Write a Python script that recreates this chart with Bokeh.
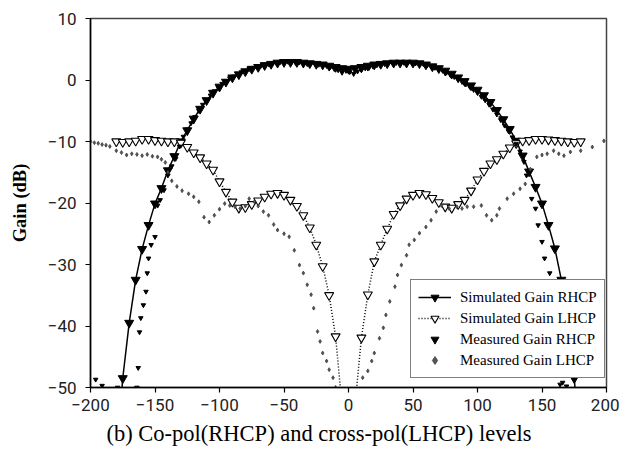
from bokeh.plotting import figure
from bokeh.models import Range1d, FixedTicker, Title, Legend
from bokeh.embed import file_html
from bokeh.resources import INLINE

# ---------------- data ----------------
sim_angle = [-180, -175, -170, -165, -160, -155, -150, -145, -140, -135, -130, -125,
             -120, -115, -110, -105, -100, -95, -90, -85, -80, -75, -70, -65,
             -60, -55, -50, -45, -40, -35, -30, -25, -20, -15, -10, -5,
             0, 5, 10, 15, 20, 25, 30, 35, 40, 45, 50, 55,
             60, 65, 70, 75, 80, 85, 90, 95, 100, 105, 110, 115,
             120, 125, 130, 135, 140, 145, 150, 155, 160, 165, 170, 175, 180]

sim_rhcp = [-62.0, -48.5, -39.5, -32.5, -27.5, -23.6, -20.1, -17.6, -14.7, -12.4, -10.0, -8.2,
            -6.3, -4.7, -3.3, -2.1, -1.1, -0.3, 0.4, 0.9, 1.4, 1.8, 2.1, 2.4,
            2.6, 2.8, 2.9, 2.9, 2.9, 2.8, 2.7, 2.6, 2.5, 2.3, 2.1, 1.9,
            1.8, 1.9, 2.1, 2.3, 2.5, 2.6, 2.7, 2.8, 2.8, 2.8, 2.8, 2.7,
            2.5, 2.2, 1.9, 1.5, 1.0, 0.4, -0.2, -0.9, -1.6, -2.5, -3.6, -4.9,
            -6.4, -8.0, -9.9, -12.3, -14.9, -17.4, -20.1, -23.6, -27.4, -32.5, -39.5, -48.5, -62.0]

sim_lhcp = [-10.0, -10.1, -10.0, -9.9, -9.6, -9.6, -9.8, -9.9, -10.0, -10.0, -10.2, -10.9,
            -11.8, -12.6, -13.6, -14.6, -16.5, -18.2, -19.8, -20.8, -20.7, -20.2, -19.6, -19.0,
            -18.5, -18.4, -18.7, -19.5, -20.5, -22.0, -24.0, -26.8, -30.3, -35.0, -41.7, -53.0,
            -60.0, -53.0, -41.9, -34.9, -29.5, -26.8, -24.2, -21.8, -20.4, -19.3, -18.7, -18.4,
            -18.6, -19.2, -19.9, -20.6, -20.8, -20.2, -19.5, -18.0, -16.2, -14.8, -13.6, -12.9,
            -12.0, -11.0, -10.3, -9.9, -9.8, -9.6, -9.6, -9.7, -9.8, -9.9, -10.0, -10.1, -10.0]

meas_rhcp_angle = [-196, -191, -179, -164, -163, -162, -161, -159, -157, -156, -155, -153,
                   -150, -148, -146, -143, -140, -137, -134, -131, -128, -125, -122, -119,
                   -116, -113, -110, -107, -104, -101, -98, -95, -92, -89, -86, -83,
                   -80, -77, -74, -71, -68, -65, -62, -59, -56, -53, -50, -47,
                   -44, -41, -38, -35, -32, -29, -26, -23, -20, -17, -14, -11,
                   -8, -5, -2, 1, 4, 7, 10, 13, 16, 19, 22, 25,
                   28, 31, 34, 37, 40, 43, 46, 49, 52, 55, 58, 61,
                   64, 67, 70, 73, 76, 79, 82, 85, 88, 91, 94, 97,
                   100, 103, 106, 109, 112, 115, 118, 121, 124, 127, 130, 133,
                   136, 138, 142, 145, 147, 150, 152, 156, 158, 160, 162, 164,
                   166, 169, 196]
meas_rhcp = [-48.7, -49.7, -50.0, -50.0, -46.8, -41.0, -38.7, -36.6, -34.4, -31.4, -29.0, -26.8,
             -25.5, -20.4, -19.5, -17.9, -15.5, -14.0, -12.8, -10.8, -9.2, -8.0, -7.0, -6.0,
             -5.0, -4.0, -3.2, -2.5, -1.8, -1.2, -0.6, -0.2, 0.3, 0.6, 1.0, 1.3,
             1.5, 1.8, 2.0, 2.2, 2.3, 2.5, 2.6, 2.7, 2.8, 2.9, 2.8, 3.0,
             2.9, 2.8, 2.9, 2.8, 2.6, 2.8, 2.7, 2.5, 2.6, 2.3, 2.1, 1.8,
             1.6, 1.2, 1.5, 1.3, 1.0, 1.4, 1.6, 1.9, 2.0, 2.2, 2.4, 2.5,
             2.6, 2.7, 2.8, 2.8, 2.9, 2.8, 2.9, 2.8, 2.7, 2.8, 2.6, 2.4,
             2.2, 2.0, 1.7, 1.5, 1.2, 0.8, 0.5, 0.1, -0.3, -0.7, -1.1, -1.6,
             -2.1, -2.7, -3.3, -4.0, -4.8, -5.6, -6.5, -7.4, -8.3, -9.3, -10.4, -11.6,
             -13.3, -15.5, -19.3, -20.9, -23.6, -26.3, -29.0, -31.4, -35.0, -40.0, -45.0, -49.5,
             -49.2, -49.8, -48.0]

meas_lhcp_angle = [-200, -197, -194, -191, -188, -185, -180, -176, -172, -168, -164, -160,
                   -156, -152, -148, -145, -142, -140, -137, -133, -129, -124, -120, -116,
                   -112, -108, -104, -100, -96, -92, -88, -84, -80, -77, -73, -70,
                   -66, -62, -58, -55, -50, -46, -42, -38, -35, -32, -29, -27,
                   -24, -22, -20, -17, -15, -12, -10,
                   11, 15, 18, 20, 24, 27, 29, 32, 36, 38, 41, 45,
                   47, 51, 55, 60, 64, 68, 72, 78, 84, 88, 92, 97,
                   103, 107, 111, 115, 117, 123, 128, 133, 137, 141, 146, 150,
                   154, 159, 163, 167, 172, 180, 189, 198]
meas_lhcp = [-10.0, -10.2, -10.3, -10.5, -10.6, -10.8, -11.5, -11.8, -12.2, -12.0, -12.1, -12.3,
             -12.1, -12.4, -12.5, -12.9, -13.4, -15.0, -16.4, -17.3, -18.0, -18.5, -19.0, -19.8,
             -22.3, -23.1, -22.0, -21.0, -20.1, -20.4, -20.6, -20.9, -20.5, -19.3, -19.8, -20.5,
             -21.4, -22.0, -23.5, -24.4, -25.0, -25.5, -27.7, -30.1, -31.4, -33.3, -34.9, -37.1,
             -40.9, -42.5, -44.4, -45.7, -47.1, -48.4, -50.0,
             -48.4, -47.3, -45.7, -44.4, -42.0, -40.3, -38.2, -36.0, -33.6, -31.7, -30.1, -28.5,
             -26.8, -26.0, -24.9, -23.9, -22.8, -21.4, -20.4, -20.9, -20.6, -20.9, -20.6, -20.6,
             -20.4, -22.0, -22.8, -22.0, -20.9, -19.3, -18.5, -17.7, -16.9, -14.5, -12.5, -12.2,
             -12.0, -11.5, -12.0, -12.3, -11.7, -11.5, -10.9, -9.9]

x_ticks = [-200, -150, -100, -50, 0, 50, 100, 150, 200]
y_ticks = [-50, -40, -30, -20, -10, 0, 10]
caption = "(b) Co-pol(RHCP) and cross-pol(LHCP) levels"
y_label = "Gain (dB)"

# ---------------- figure ----------------
p = figure(width=619, height=450, output_backend="svg", toolbar_location=None,
           x_range=Range1d(-200, 200), y_range=Range1d(-50, 10),
           min_border_left=90, min_border_right=13, min_border_top=18, min_border_bottom=58)
p.title.visible = False
p.xgrid.visible = False
p.ygrid.visible = False
p.background_fill_color = "white"
p.border_fill_color = "white"
p.outline_line_color = "#444444"
p.outline_line_width = 1.5

tick_font = "Roboto"
for ax in (p.xaxis[0], p.yaxis[0]):
    ax.axis_line_color = "black"
    ax.axis_line_width = 1.5
    ax.major_tick_line_color = "black"
    ax.major_tick_line_width = 1.2
    ax.major_tick_out = 5
    ax.major_tick_in = 0
    ax.minor_tick_line_color = None
    ax.major_label_text_font = tick_font
    ax.major_label_text_font_size = "17px"
    ax.major_label_text_color = "#222222"

p.xaxis[0].ticker = FixedTicker(ticks=x_ticks)
p.yaxis[0].ticker = FixedTicker(ticks=y_ticks)
p.xaxis[0].major_label_standoff = 6
p.yaxis[0].major_label_standoff = 9
p.yaxis[0].axis_label = y_label
p.yaxis[0].axis_label_text_font = "Liberation Serif"
p.yaxis[0].axis_label_text_font_style = "bold"
p.yaxis[0].axis_label_text_font_size = "18.5px"
p.yaxis[0].axis_label_text_color = "black"
p.yaxis[0].axis_label_standoff = 15

cap = Title(text=caption, align="left", offset=16,
            text_font="Liberation Serif", text_font_size="22.5px",
            text_font_style="normal", text_color="black", standoff=10)
p.add_layout(cap, "below")

# ---------------- series ----------------
r1l = p.line(sim_angle, sim_rhcp, line_color="black", line_width=1.5)
r1m = p.scatter(sim_angle, sim_rhcp, marker="inverted_triangle", size=9,
                fill_color="black", line_color="black")
r2l = p.line(sim_angle, sim_lhcp, line_color="black", line_width=1.5, line_dash="1 2")
r2m = p.scatter(sim_angle, sim_lhcp, marker="inverted_triangle", size=9,
                fill_color="white", line_color="black", line_width=1.1)
r3 = p.scatter(meas_rhcp_angle, meas_rhcp, marker="inverted_triangle", size=4.5,
               fill_color="black", line_color="black")
r4 = p.scatter(meas_lhcp_angle, meas_lhcp, marker="diamond", size=4,
               fill_color="#555555", line_color="#333333", line_width=0.7)

legend = Legend(items=[("Simulated Gain RHCP", [r1l, r1m]),
                       ("Simulated Gain LHCP", [r2l, r2m]),
                       ("Measured Gain RHCP", [r3]),
                       ("Measured Gain LHCP", [r4])],
                location=(320, 9))
legend.label_text_font = "Liberation Serif"
legend.label_text_font_size = "15px"
legend.label_text_color = "black"
legend.glyph_width = 33
legend.glyph_height = 20
legend.label_height = 20
legend.label_standoff = 9
legend.spacing = 1
legend.padding = 7
legend.margin = 0
legend.border_line_color = "black"
legend.border_line_width = 1.5
legend.background_fill_color = "white"
legend.background_fill_alpha = 1.0
p.add_layout(legend, "center")

open("out.html", "w").write(file_html(p, INLINE))
